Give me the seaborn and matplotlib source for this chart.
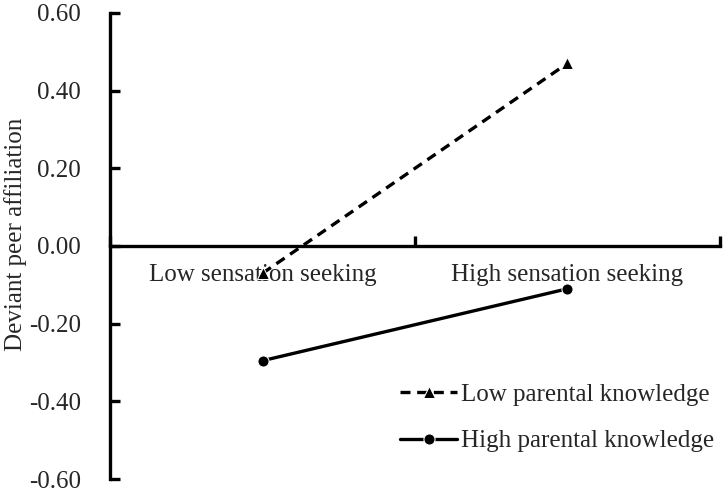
import matplotlib
matplotlib.use("Agg")
import matplotlib.pyplot as plt
import pandas as pd
import seaborn as sns

# Data
sensation = ["Low sensation seeking", "High sensation seeking"]
low_knowledge = [-0.07, 0.47]
high_knowledge = [-0.295, -0.11]
series_names = ["Low parental knowledge", "High parental knowledge"]
y_ticks = [-0.6, -0.4, -0.2, 0.0, 0.2, 0.4, 0.6]

df = pd.DataFrame({
    "sensation": sensation * 2,
    "value": low_knowledge + high_knowledge,
    "group": [series_names[0]] * 2 + [series_names[1]] * 2,
})

sns.set_style("white")
plt.rcParams["font.family"] = ["Liberation Serif", "DejaVu Serif"]

FS = 18
fig = plt.figure(figsize=(7.25, 4.92), dpi=100)
ax = fig.add_axes([0.152, 0.026, 0.841, 0.948])

styles = {
    series_names[0]: dict(linestyle=(0, (3, 2)), marker="^", markersize=8),
    series_names[1]: dict(linestyle="-", marker="o", markersize=8),
}
for name in series_names:
    sub = df[df["group"] == name]
    sns.lineplot(data=sub, x="sensation", y="value", ax=ax, color="black",
                 linewidth=2.4, label=name, sort=False, **styles[name])

ax.set_xlim(-0.5, 1.5)
ax.set_ylim(-0.6, 0.6)

# spines: left axis and a horizontal axis through zero
for s in ["top", "right"]:
    ax.spines[s].set_visible(False)
for s in ["left", "bottom"]:
    ax.spines[s].set_linewidth(2.4)
    ax.spines[s].set_color("black")
ax.spines["bottom"].set_position(("data", 0))

ax.set_yticks(y_ticks)
ax.set_yticklabels([f"{v:.2f}" for v in y_ticks], fontsize=FS)
ax.tick_params(axis="y", left=True, direction="in", length=7, width=2.4,
               color="black", pad=21)

ax.set_xticks([-0.5, 0.5, 1.5])
ax.set_xticklabels(["", "", ""])
ax.set_xticks([0, 1], minor=True)
ax.set_xticklabels(sensation, minor=True, fontsize=FS)
ax.tick_params(axis="x", which="major", bottom=True, direction="in",
               length=7, width=2.4, color="black")
ax.tick_params(axis="x", which="minor", bottom=True, length=0, pad=13)

ax.set_xlabel("")
ax.set_ylabel("Deviant peer affiliation", fontsize=FS)
ax.yaxis.set_label_coords(-0.137, 0.525)

ax.legend(loc="upper left", bbox_to_anchor=(0.475, 0.205), frameon=False,
          fontsize=FS, handlelength=2.3, handletextpad=0.15, labelspacing=0.95,
          borderpad=0, borderaxespad=0)

fig.savefig("out.png", dpi=100)
